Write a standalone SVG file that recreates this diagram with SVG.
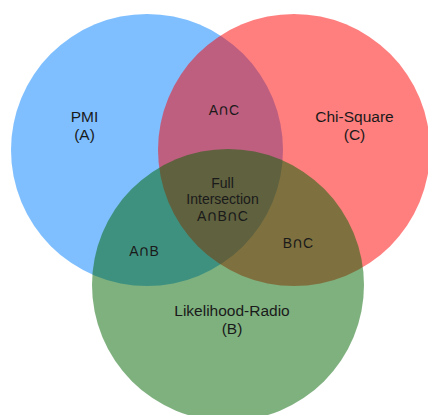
<svg xmlns="http://www.w3.org/2000/svg" width="428" height="415" viewBox="0 0 428 415">
<style>
.set{fill-opacity:0.5;stroke:none}
.lbl{font-family:"Liberation Sans",Arial,Helvetica,sans-serif;font-size:15.5px;fill:#1a1a1a;text-anchor:middle}
.sm{font-family:"Liberation Sans",Arial,Helvetica,sans-serif;font-size:14px;fill:#1a1a1a;text-anchor:middle}
.cap{font-family:"DejaVu Sans",sans-serif;font-size:15px}
</style>
<rect width="428" height="415" fill="#ffffff"/>
<g id="setA"><circle class="set" cx="147" cy="150" r="136" fill="#0080ff"/></g>
<g id="setC"><circle class="set" cx="294" cy="150" r="136" fill="#ff0000"/></g>
<g id="setB"><circle class="set" cx="228" cy="285" r="136" fill="#006400"/></g>
<g id="labels">
<text class="lbl" x="84.5" y="121.5">PMI</text>
<text class="lbl" x="84.5" y="140">(A)</text>
<text class="lbl" x="354.5" y="121.5">Chi-Square</text>
<text class="lbl" x="354.5" y="140">(C)</text>
<text class="lbl" x="232" y="315.5">Likelihood-Radio</text>
<text class="lbl" x="232" y="333.5">(B)</text>
<text class="sm" x="224" y="115">A<tspan class="cap">∩</tspan>C</text>
<text class="sm" x="144" y="256">A<tspan class="cap">∩</tspan>B</text>
<text class="sm" x="298" y="248">B<tspan class="cap">∩</tspan>C</text>
<text class="sm" x="222.5" y="187.5">Full</text>
<text class="sm" x="222.5" y="203.5">Intersection</text>
<text class="sm" x="222.5" y="220.5">A<tspan class="cap">∩</tspan>B<tspan class="cap">∩</tspan>C</text>
</g>
</svg>
